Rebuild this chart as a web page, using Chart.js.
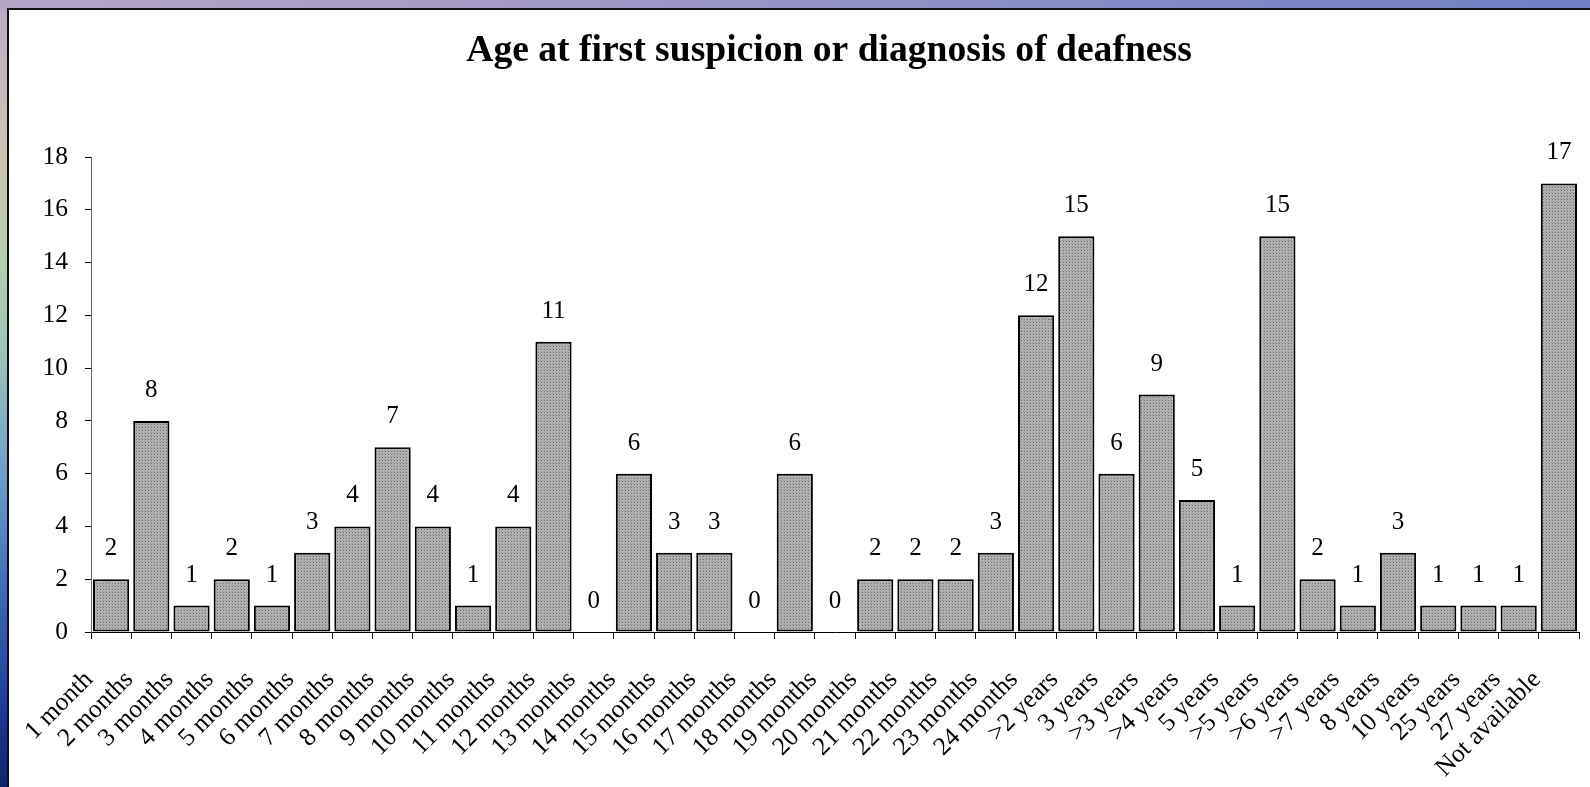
<!DOCTYPE html>
<html>
<head>
<meta charset="utf-8">
<script src="https://cdn.jsdelivr.net/npm/chart.js@4.4.1/dist/chart.umd.min.js"></script>
<style>
  html, body { margin: 0; padding: 0; }
  body { width: 1590px; height: 787px; overflow: hidden; position: relative;
    background: linear-gradient(180deg, #b9a9c6 0%, #d0c2b4 18%, #b7cfae 32%, #9cc4b8 45%, #6f9fcb 60%, #3660b4 78%, #1a3590 92%, #10256e 100%); }
  #topstrip { position: absolute; left: 0; top: 0; width: 1590px; height: 9px;
    background: linear-gradient(90deg, #b5a6c8 0%, #a69ac6 30%, #8c8fc6 60%, #6f7fc4 100%); }
  #panel { position: absolute; left: 7px; top: 8px; width: 1583px; height: 779px; background: #fff;
    border-top: 2px solid #111; border-left: 2px solid #111; box-sizing: border-box; }
  #c { position: absolute; left: 0; top: 0; }
</style>
</head>
<body>
<div id="topstrip"></div>
<div id="panel"></div>
<canvas id="c" width="1590" height="787"></canvas>
<script>
const chartTitle = "Age at first suspicion or diagnosis of deafness";
const categories = ["1 month","2 months","3 months","4 months","5 months","6 months","7 months","8 months","9 months","10 months","11 months","12 months","13 months","14 months","15 months","16 months","17 months","18 months","19 months","20 months","21 months","22 months","23 months","24 months",">2 years","3 years",">3 years",">4 years","5 years",">5 years",">6 years",">7 years","8 years","10 years","25 years","27 years","Not available"];
const counts = [2,8,1,2,1,3,4,7,4,1,4,11,0,6,3,3,0,6,0,2,2,2,3,12,15,6,9,5,1,15,2,1,3,1,1,1,17];
const yMin = 0, yMax = 18, yStep = 2;

const FONT = "'Liberation Serif', 'Times New Roman', serif";

function makePattern() {
  const p = document.createElement('canvas');
  p.width = 3; p.height = 3;
  const g = p.getContext('2d');
  g.fillStyle = '#b2b2b2'; g.fillRect(0,0,3,3);
  g.fillStyle = '#6a6a6a'; g.fillRect(1,1,1,1);
  g.fillStyle = '#969696'; g.fillRect(0,0,1,1);
  return g.createPattern(p, 'repeat');
}

const titlePlugin = {
  id: 'customTitle',
  afterDraw(chart) {
    const ctx = chart.ctx;
    const a = chart.chartArea;
    ctx.save();
    ctx.font = "bold 37.6px " + FONT;
    ctx.fillStyle = '#000';
    ctx.textAlign = 'center';
    ctx.textBaseline = 'alphabetic';
    ctx.fillText(chartTitle, (a.left + a.right) / 2 - 6, 61);
    ctx.restore();
  }
};

const valuePlugin = {
  id: 'valueLabels',
  afterDatasetsDraw(chart) {
    const ctx = chart.ctx;
    const meta = chart.getDatasetMeta(0);
    ctx.save();
    ctx.font = "25px " + FONT;
    ctx.fillStyle = '#000';
    ctx.textAlign = 'center';
    ctx.textBaseline = 'alphabetic';
    meta.data.forEach((el, i) => {
      ctx.fillText(String(counts[i]), el.x, el.y - 24);
    });
    ctx.restore();
  }
};

new Chart(document.getElementById('c'), {
  type: 'bar',
  data: {
    labels: categories,
    datasets: [{
      data: counts,
      backgroundColor: makePattern(),
      borderColor: '#000',
      borderWidth: 2,
      borderSkipped: false,
      barPercentage: 0.9,
      categoryPercentage: 1.0
    }]
  },
  options: {
    responsive: false,
    animation: false,
    devicePixelRatio: 1,
    layout: { padding: { top: 157, right: 11, bottom: 0, left: 0 } },
    plugins: { legend: { display: false }, title: { display: false }, tooltip: { enabled: false } },
    scales: {
      x: {
        grid: { offset: true, drawOnChartArea: false, drawTicks: true, tickLength: 7, color: '#000' },
        border: { display: true, color: '#000', width: 1 },
        ticks: { color: '#000', font: { family: FONT, size: 25.5 }, minRotation: 45, maxRotation: 45, autoSkip: false, padding: 26, labelOffset: -22 },
        afterFit(s) { s.height = 155; s.paddingLeft = 0; s.paddingRight = 0; }
      },
      y: {
        min: yMin, max: yMax,
        grid: { drawOnChartArea: false, drawTicks: true, tickLength: 6, color: '#000' },
        border: { display: true, color: '#666', width: 1 },
        ticks: { stepSize: yStep, color: '#000', font: { family: FONT, size: 25.5 }, padding: 17 },
        afterFit(s) { s.width = 91; s.paddingTop = 0; s.paddingBottom = 0; }
      }
    }
  },
  plugins: [titlePlugin, valuePlugin]
});
</script>
</body>
</html>
